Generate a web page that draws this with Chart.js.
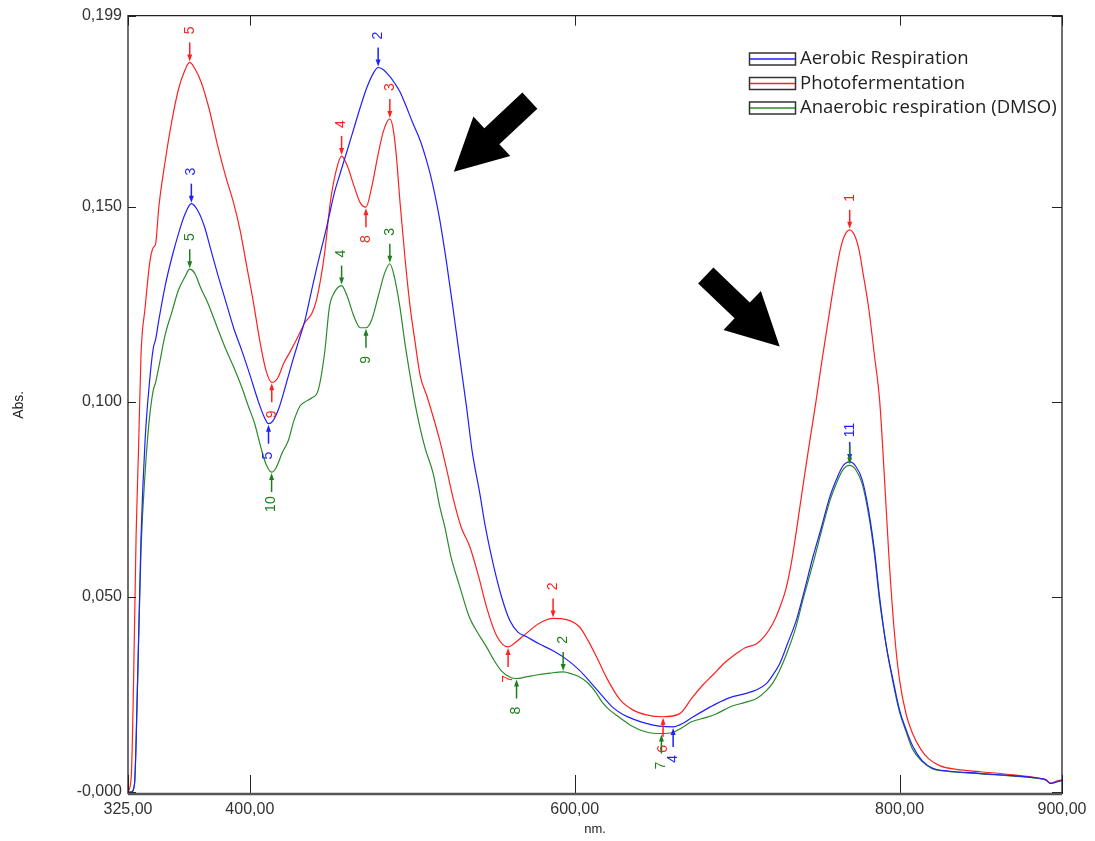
<!DOCTYPE html>
<html>
<head>
<meta charset="utf-8">
<script src="https://cdn.jsdelivr.net/npm/chart.js@4/dist/chart.umd.min.js"></script>
<style>
  html, body { margin: 0; padding: 0; background: #fff; }
</style>
</head>
<body>
<canvas id="spectrumChart" width="1095" height="841"></canvas>
<script>
// Wavelength (nm) and absorbance, one pair of arrays per curve
const aerobicNm = [325, 327, 329, 331, 333, 335.5, 338, 340.5, 342, 344, 348, 352, 356, 360, 364, 368, 372, 376, 380, 385, 390, 395, 400, 405, 409, 411.5, 414, 418, 421.6, 426, 430, 434, 438, 441, 443, 446, 449, 452, 455.5, 460, 464, 468, 472, 476, 479, 482, 486, 489, 492.4, 496, 500, 504.7, 508, 511, 514, 517, 521, 525, 529, 533.4, 537, 541.6, 545, 549.8, 555, 560, 565, 570.4, 578, 586.7, 595, 603, 610, 617.5, 624, 630, 636, 644, 652, 660.6, 667, 673, 680, 687, 695.5, 705.6, 712, 718, 722, 726.2, 731, 736.4, 741, 746.7, 752, 757, 761, 765, 769.3, 773, 777, 781, 784.5, 787.7, 792, 796, 800, 804, 808.3, 814, 820.5, 830, 849, 870, 885, 890, 893, 896, 900];
const aerobicAbs = [0.000, 0.000, 0.002, 0.030, 0.065, 0.090, 0.104, 0.1136, 0.116, 0.121, 0.130, 0.137, 0.143, 0.148, 0.1508, 0.149, 0.145, 0.139, 0.133, 0.126, 0.119, 0.1132, 0.107, 0.1004, 0.096, 0.0944, 0.095, 0.0985, 0.1035, 0.110, 0.1155, 0.121, 0.1285, 0.134, 0.1375, 0.1425, 0.148, 0.1535, 0.1584, 0.1645, 0.170, 0.1755, 0.1805, 0.1842, 0.1857, 0.1852, 0.1835, 0.1818, 0.1795, 0.176, 0.1718, 0.1672, 0.163, 0.1585, 0.153, 0.1465, 0.136, 0.1243, 0.112, 0.0987, 0.087, 0.0765, 0.068, 0.0585, 0.050, 0.044, 0.041, 0.0398, 0.038, 0.0362, 0.034, 0.0312, 0.028, 0.0244, 0.0215, 0.0198, 0.0187, 0.0176, 0.0169, 0.0167, 0.0177, 0.0193, 0.021, 0.0226, 0.0242, 0.0253, 0.0262, 0.0278, 0.030, 0.0329, 0.038, 0.044, 0.051, 0.0603, 0.068, 0.0756, 0.080, 0.0835, 0.0846, 0.0835, 0.080, 0.072, 0.062, 0.050, 0.037, 0.0287, 0.021, 0.016, 0.0116, 0.008, 0.0061, 0.0054, 0.0048, 0.0042, 0.0036, 0.0032, 0.0022, 0.0025, 0.0030];

const photoNm = [325, 327, 328.5, 330, 331.5, 333, 335.5, 338.5, 340.5, 342, 344, 348, 352, 356, 360, 363, 366, 370, 375, 380, 385, 390, 394, 398, 402, 406, 410, 413.5, 417, 421, 425, 430, 434, 438, 441, 446, 449.5, 453, 456.5, 460, 464, 468, 471.5, 475, 479, 482, 484.5, 486.2, 488, 490, 492.5, 495.5, 498.5, 501.5, 505, 509, 513, 517, 521, 525, 530, 535.5, 541, 546, 552, 559, 564, 570, 578, 586.7, 595, 603, 608, 613.5, 620, 628, 636, 644, 654.4, 664.7, 672, 679, 685, 692, 699.5, 705, 712, 717, 722, 726, 730, 733.5, 736.5, 740, 744, 748.5, 752, 755, 758, 761, 763.5, 766, 769.3, 772.5, 775, 777.5, 781, 784.5, 787.8, 790.5, 793.5, 797, 800, 804, 808, 813, 818, 825, 835, 850, 870, 885, 890, 893, 896, 900];
const photoAbs = [0.000, 0.004, 0.030, 0.066, 0.088, 0.112, 0.124, 0.136, 0.1395, 0.1405, 0.150, 0.162, 0.172, 0.180, 0.185, 0.187, 0.1855, 0.182, 0.175, 0.166, 0.158, 0.151, 0.144, 0.135, 0.126, 0.116, 0.108, 0.105, 0.106, 0.110, 0.113, 0.117, 0.1204, 0.1225, 0.126, 0.138, 0.151, 0.159, 0.163, 0.1605, 0.1555, 0.151, 0.1499, 0.155, 0.1635, 0.169, 0.1718, 0.1725, 0.1705, 0.164, 0.151, 0.137, 0.125, 0.116, 0.1065, 0.1015, 0.096, 0.090, 0.083, 0.0756, 0.068, 0.0628, 0.055, 0.047, 0.040, 0.0372, 0.0385, 0.0406, 0.0432, 0.0445, 0.0442, 0.0423, 0.039, 0.0346, 0.029, 0.0236, 0.021, 0.0198, 0.0193, 0.0201, 0.024, 0.0275, 0.030, 0.033, 0.0355, 0.037, 0.038, 0.040, 0.0432, 0.047, 0.052, 0.059, 0.067, 0.077, 0.088, 0.100, 0.110, 0.118, 0.126, 0.1335, 0.139, 0.1425, 0.1441, 0.1425, 0.139, 0.133, 0.124, 0.112, 0.100, 0.082, 0.060, 0.040, 0.0287, 0.020, 0.015, 0.011, 0.0085, 0.0067, 0.0058, 0.0052, 0.0044, 0.0036, 0.0031, 0.0022, 0.0027, 0.0031];

const anaerobicNm = [325, 327, 329, 331, 333, 335.5, 338, 340.5, 342, 344, 348, 352, 356, 360, 363, 366, 370, 374.4, 380, 384.7, 390, 395, 399, 403, 407, 410, 413.4, 416, 420, 423.7, 427, 431, 434, 438, 442, 446, 449, 452, 456.5, 460, 464, 468, 471.5, 475, 479, 483, 486.2, 489, 492.4, 495.5, 498.5, 501.5, 504.7, 508, 512.9, 517, 520, 524, 529.3, 535, 540, 545.7, 550, 555, 560, 564.2, 570, 576.5, 585, 592.9, 598, 603, 608, 613.4, 617, 621.6, 628, 634, 644, 653.4, 660, 666, 672, 680, 687, 695.5, 705, 712, 718, 722, 726, 731, 736, 741, 747, 752, 757, 761, 765, 769.3, 773, 777, 781, 784.5, 787.7, 792, 796, 800, 804, 808, 814, 820, 830, 849, 870, 885, 890, 893, 896, 900];
const anaerobicAbs = [0.000, 0.000, 0.002, 0.030, 0.062, 0.0816, 0.095, 0.1029, 0.105, 0.109, 0.1174, 0.123, 0.1286, 0.132, 0.134, 0.133, 0.129, 0.1251, 0.119, 0.114, 0.109, 0.1038, 0.099, 0.0944, 0.088, 0.084, 0.082, 0.083, 0.087, 0.0901, 0.095, 0.099, 0.100, 0.101, 0.1029, 0.1124, 0.1243, 0.128, 0.1298, 0.127, 0.122, 0.119, 0.119, 0.121, 0.127, 0.133, 0.1354, 0.132, 0.1243, 0.115, 0.1072, 0.100, 0.0935, 0.088, 0.0816, 0.073, 0.068, 0.060, 0.0526, 0.045, 0.041, 0.0372, 0.034, 0.031, 0.0295, 0.0291, 0.0295, 0.030, 0.0305, 0.0308, 0.0303, 0.0295, 0.028, 0.0253, 0.023, 0.021, 0.019, 0.0172, 0.0154, 0.0150, 0.0152, 0.0165, 0.0180, 0.0190, 0.0200, 0.0218, 0.023, 0.024, 0.026, 0.028, 0.031, 0.036, 0.042, 0.050, 0.059, 0.067, 0.0745, 0.079, 0.0825, 0.0837, 0.0826, 0.079, 0.071, 0.061, 0.049, 0.037, 0.028, 0.0205, 0.0155, 0.011, 0.0078, 0.006, 0.0053, 0.0047, 0.0041, 0.0035, 0.0031, 0.0022, 0.0025, 0.0030];

// Peak / valley picks: [wavelength, label, kind]
const aerobicPeaks = [[769.3, '11', 'max'], [479, '2', 'max'], [364, '3', 'max'], [660.6, '4', 'min'], [411.5, '5', 'min']];
const photoPeaks = [[769.3, '1', 'max'], [586.7, '2', 'max'], [486.2, '3', 'max'], [456.5, '4', 'max'], [363, '5', 'max'], [654.4, '6', 'min'], [559, '7', 'min'], [471.5, '8', 'min'], [413.5, '9', 'min']];
const anaerobicPeaks = [[769.3, '11', 'max'], [592.9, '2', 'max'], [486.2, '3', 'max'], [456.5, '4', 'max'], [363, '5', 'max'], [653.4, '7', 'min'], [564.2, '8', 'min'], [471.5, '9', 'min'], [413.4, '10', 'min']];

const seriesLabels = ['Aerobic Respiration', 'Photofermentation', 'Anaerobic respiration (DMSO)'];
const xTicks = [325, 400, 600, 800, 900];
const yTicks = [0, 0.05, 0.1, 0.15, 0.199];
const yTickLabels = ['-0,000', '0,050', '0,100', '0,150', '0,199'];

// big black pointers, given in data units [nm, abs]
const bigArrows = [
    { from: [572.4, 0.1772], to: [525.6, 0.159] },
    { from: [680.7, 0.1324], to: [726.2, 0.1142] }
];

const toPoints = (xs, ys) => xs.map((x, i) => ({ x: x, y: ys[i] }));

const framePlugin = {
    id: 'frame',
    afterDraw(chart) {
        const { ctx, chartArea: a, scales: { x, y } } = chart;
        ctx.save();
        ctx.strokeStyle = '#222';
        ctx.lineWidth = 1.3;
        ctx.beginPath();
        ctx.moveTo(a.left, a.bottom);
        ctx.lineTo(a.left, a.top);
        ctx.lineTo(a.right, a.top);
        ctx.lineTo(a.right, a.bottom);
        ctx.stroke();

        // inward tick marks on every side
        ctx.lineWidth = 1;
        ctx.beginPath();
        x.ticks.forEach(t => {
            const px = Math.round(x.getPixelForValue(t.value)) + 0.5;
            ctx.moveTo(px, a.bottom);
            ctx.lineTo(px, a.bottom - 19);
            ctx.moveTo(px, a.top);
            ctx.lineTo(px, a.top + 10);
        });
        y.ticks.forEach(t => {
            const py = Math.round(y.getPixelForValue(t.value)) + 0.5;
            ctx.moveTo(a.left, py);
            ctx.lineTo(a.left + 8, py);
            ctx.moveTo(a.right, py);
            ctx.lineTo(a.right - 10, py);
        });
        ctx.stroke();

        ctx.strokeStyle = '#555';
        ctx.lineWidth = 2.6;
        ctx.beginPath();
        ctx.moveTo(a.left, a.bottom);
        ctx.lineTo(a.right, a.bottom);
        ctx.stroke();
        ctx.restore();
    }
};

const markerPlugin = {
    id: 'peakMarkers',
    afterDatasetsDraw(chart) {
        const { ctx, scales: { x, y } } = chart;
        const written = [];
        ctx.save();
        chart.data.datasets.forEach(ds => {
            ds.peaks.forEach(([nm, label, kind]) => {
                const pt = ds.data.find(p => p.x === nm);
                if (!pt) return;
                const px = x.getPixelForValue(nm);
                const py = y.getPixelForValue(pt.y);
                const s = kind === 'max' ? -1 : 1;
                ctx.strokeStyle = ds.markColor;
                ctx.fillStyle = ds.markColor;
                ctx.lineWidth = 1.5;
                ctx.beginPath();
                ctx.moveTo(px, py + s * 6);
                ctx.lineTo(px, py + s * 20);
                ctx.stroke();
                ctx.beginPath();
                ctx.moveTo(px, py + s * 1);
                ctx.lineTo(px - 2.5, py + s * 8);
                ctx.lineTo(px + 2.5, py + s * 8);
                ctx.closePath();
                ctx.fill();

                // blue and green share the "11" pick, write it once
                const ly = py + s * 32;
                if (written.some(w => w.label === label && Math.abs(w.x - px) < 3 && Math.abs(w.y - ly) < 8)) return;
                written.push({ label: label, x: px, y: ly });
                ctx.save();
                ctx.translate(px, ly);
                ctx.rotate(-Math.PI / 2);
                ctx.font = '14px "Liberation Sans", Arial, sans-serif';
                ctx.textAlign = 'center';
                ctx.textBaseline = 'middle';
                ctx.fillText(label, 0, 0);
                ctx.restore();
            });
        });
        ctx.restore();
    }
};

const arrowPlugin = {
    id: 'bigArrows',
    afterDraw(chart) {
        const { ctx, scales: { x, y } } = chart;
        ctx.save();
        ctx.fillStyle = '#000';
        bigArrows.forEach(arr => {
            const x0 = x.getPixelForValue(arr.from[0]), y0 = y.getPixelForValue(arr.from[1]);
            const x1 = x.getPixelForValue(arr.to[0]), y1 = y.getPixelForValue(arr.to[1]);
            const len = Math.hypot(x1 - x0, y1 - y0);
            const dx = (x1 - x0) / len, dy = (y1 - y0) / len;
            const nx = -dy, ny = dx;
            const headLen = 52, headHalf = 27, shaftHalf = 11;
            const bx = x1 - dx * headLen, by = y1 - dy * headLen;
            ctx.beginPath();
            ctx.moveTo(x0 + nx * shaftHalf, y0 + ny * shaftHalf);
            ctx.lineTo(bx + nx * shaftHalf, by + ny * shaftHalf);
            ctx.lineTo(bx + nx * headHalf, by + ny * headHalf);
            ctx.lineTo(x1, y1);
            ctx.lineTo(bx - nx * headHalf, by - ny * headHalf);
            ctx.lineTo(bx - nx * shaftHalf, by - ny * shaftHalf);
            ctx.lineTo(x0 - nx * shaftHalf, y0 - ny * shaftHalf);
            ctx.closePath();
            ctx.fill();
        });
        ctx.restore();
    }
};

const legendPlugin = {
    id: 'boxLegend',
    afterDraw(chart) {
        const { ctx } = chart;
        ctx.save();
        chart.data.datasets.forEach((ds, i) => {
            const top = 53 + i * 24.5;
            ctx.lineWidth = 1.5;
            ctx.strokeStyle = '#333';
            ctx.strokeRect(749.5, top, 46, 12);
            ctx.strokeStyle = ds.borderColor;
            ctx.beginPath();
            ctx.moveTo(750, top + 6);
            ctx.lineTo(795, top + 6);
            ctx.stroke();
            ctx.fillStyle = '#222';
            ctx.font = '18.5px "Open Sans", "DejaVu Sans", sans-serif';
            ctx.textBaseline = 'middle';
            ctx.fillText(ds.label, 800, top + 6);
        });
        ctx.restore();
    }
};

const makeSet = (label, xs, ys, color, markColor, peaks) => ({
    label: label,
    data: toPoints(xs, ys),
    borderColor: color,
    markColor: markColor,
    peaks: peaks,
    borderWidth: 1.2,
    pointRadius: 0,
    fill: false,
    cubicInterpolationMode: 'monotone'
});

const ctx = document.getElementById('spectrumChart').getContext('2d');
new Chart(ctx, {
    type: 'line',
    data: {
        datasets: [
            makeSet(seriesLabels[0], aerobicNm, aerobicAbs, '#1f1fff', '#1f1fff', aerobicPeaks),
            makeSet(seriesLabels[1], photoNm, photoAbs, '#ff2020', '#ff2020', photoPeaks),
            makeSet(seriesLabels[2], anaerobicNm, anaerobicAbs, '#2a8a2a', '#1c7f1c', anaerobicPeaks)
        ]
    },
    options: {
        responsive: false,
        animation: false,
        devicePixelRatio: 1,
        layout: { padding: { left: 0, right: 33, top: 15, bottom: 0 } },
        plugins: {
            legend: { display: false },
            tooltip: { enabled: false }
        },
        scales: {
            x: {
                type: 'linear',
                min: 325,
                max: 900,
                grid: { display: false, drawTicks: false },
                border: { display: false },
                afterBuildTicks: scale => { scale.ticks = xTicks.map(v => ({ value: v })); },
                afterFit: scale => { scale.height = 47; },
                ticks: {
                    autoSkip: false,
                    maxRotation: 0,
                    padding: 6,
                    color: '#333',
                    font: { family: '"Liberation Sans", Arial, sans-serif', size: 16 },
                    callback: v => v.toFixed(2).replace('.', ',')
                },
                title: {
                    display: true,
                    text: 'nm.',
                    color: '#222',
                    font: { family: '"Liberation Sans", Arial, sans-serif', size: 13 },
                    padding: { top: 0, bottom: 4 }
                }
            },
            y: {
                min: -0.0005,
                max: 0.199,
                grid: { display: false, drawTicks: false },
                border: { display: false },
                afterBuildTicks: scale => { scale.ticks = yTicks.map(v => ({ value: v })); },
                afterFit: scale => { scale.width = 128; },
                ticks: {
                    autoSkip: false,
                    padding: 6,
                    color: '#333',
                    font: { family: '"Liberation Sans", Arial, sans-serif', size: 16 },
                    callback: (v, i) => yTickLabels[i]
                },
                title: {
                    display: true,
                    text: 'Abs.',
                    color: '#222',
                    font: { family: '"Liberation Sans", Arial, sans-serif', size: 14 },
                    padding: { top: 11, bottom: 0 }
                }
            }
        }
    },
    plugins: [framePlugin, markerPlugin, arrowPlugin, legendPlugin]
});
</script>
</body>
</html>
